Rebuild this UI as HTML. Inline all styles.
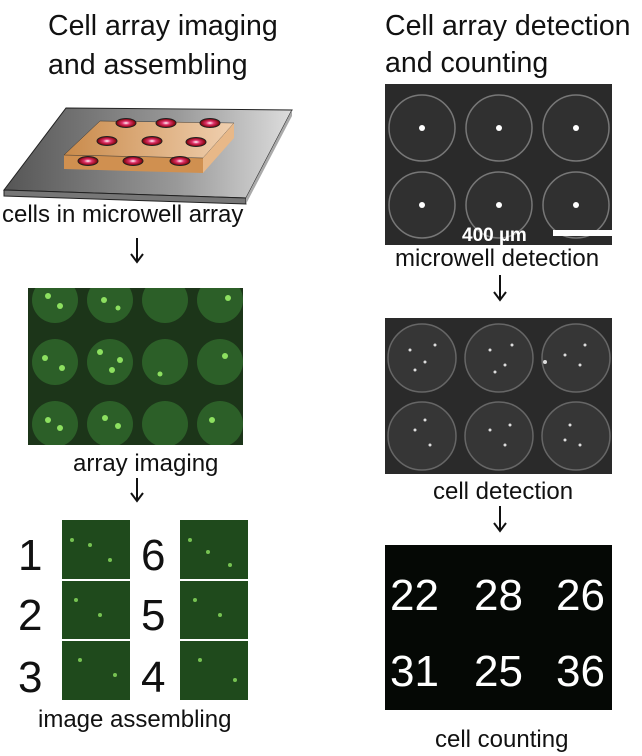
<!DOCTYPE html>
<html><head><meta charset="utf-8"><style>
body{margin:0;background:#fff;}
svg{display:block;font-family:"Liberation Sans",sans-serif;}
</style></head><body>
<svg width="642" height="756" viewBox="0 0 642 756">
<defs>
<linearGradient id="plate" x1="0" x2="1"><stop offset="0" stop-color="#555"/><stop offset="0.6" stop-color="#999"/><stop offset="1" stop-color="#ddd"/></linearGradient>
<linearGradient id="orange" x1="0" x2="1"><stop offset="0" stop-color="#c98a4a"/><stop offset="1" stop-color="#f0d0b0"/></linearGradient>
<radialGradient id="cell"><stop offset="0" stop-color="#fff"/><stop offset="0.4" stop-color="#e0306a"/><stop offset="1" stop-color="#700"/></radialGradient>
<clipPath id="gclip"><rect x="28" y="288" width="215" height="157"/></clipPath>
<clipPath id="mclip"><rect x="385" y="84" width="227" height="161"/></clipPath>
<clipPath id="cclip"><rect x="385" y="318" width="227" height="156"/></clipPath>
</defs>
<g fill="#111" font-size="28.5">
<text x="48" y="35">Cell array imaging</text>
<text x="48" y="74">and assembling</text>
<text x="385" y="35">Cell array detection</text>
<text x="385" y="72">and counting</text>
</g>
<g>
<polygon points="66,108 292,110 246,198 4,190" fill="url(#plate)" stroke="#222" stroke-width="1"/>
<polygon points="4,190 246,198 246,204 4,196" fill="#777" stroke="#222" stroke-width="1"/>
<polygon points="246,198 292,110 292,116 246,204" fill="#aaa"/>
<polygon points="64,169 203,173 203,158 64,155" fill="#d09050"/>
<polygon points="100,121 234,123 203,158 64,155" fill="url(#orange)" stroke="#333" stroke-width="0.5"/>
<polygon points="203,158 234,123 234,138 203,173" fill="#e8b888"/>
<g fill="url(#cell)" stroke="#222" stroke-width="1">
<ellipse cx="126" cy="123" rx="10" ry="4.5"/><ellipse cx="166" cy="123" rx="10" ry="4.5"/><ellipse cx="210" cy="123" rx="10" ry="4.5"/>
<ellipse cx="107" cy="141" rx="10" ry="4.5"/><ellipse cx="152" cy="141" rx="10" ry="4.5"/><ellipse cx="196" cy="142" rx="10" ry="4.5"/>
<ellipse cx="88" cy="161" rx="10" ry="4.5"/><ellipse cx="133" cy="161" rx="10" ry="4.5"/><ellipse cx="180" cy="161" rx="10" ry="4.5"/>
</g></g>
<g fill="#111" font-size="24">
<text x="2" y="222">cells in microwell array</text>
<text x="73" y="471">array imaging</text>
<text x="38" y="727">image assembling</text>
<text x="395" y="266">microwell detection</text>
<text x="433" y="499">cell detection</text>
<text x="435" y="747">cell counting</text>
</g>
<g stroke="#111" stroke-width="2" fill="none">
<path d="M137 238V261M131 254L137 262L143 254"/>
<path d="M137 478V500M131 493L137 501L143 493"/>
<path d="M500 275V299M494 292L500 300L506 292"/>
<path d="M500 506V530M494 523L500 531L506 523"/>
</g>
<g clip-path="url(#gclip)">
<rect x="28" y="288" width="215" height="157" fill="#1c3519"/>
<g fill="#2c5f28">
<circle cx="55" cy="300" r="23"/><circle cx="110" cy="300" r="23"/><circle cx="165" cy="300" r="23"/><circle cx="220" cy="300" r="23"/>
<circle cx="55" cy="362" r="23"/><circle cx="110" cy="362" r="23"/><circle cx="165" cy="362" r="23"/><circle cx="220" cy="362" r="23"/>
<circle cx="55" cy="424" r="23"/><circle cx="110" cy="424" r="23"/><circle cx="165" cy="424" r="23"/><circle cx="220" cy="424" r="23"/>
</g>
<g fill="#8de060">
<circle cx="48" cy="296" r="3"/><circle cx="60" cy="306" r="3"/><circle cx="104" cy="300" r="3"/><circle cx="118" cy="308" r="2.5"/><circle cx="228" cy="298" r="3"/>
<circle cx="45" cy="358" r="3"/><circle cx="62" cy="368" r="3"/><circle cx="100" cy="352" r="3"/><circle cx="112" cy="370" r="3"/><circle cx="120" cy="360" r="3"/><circle cx="160" cy="374" r="2.5"/><circle cx="225" cy="356" r="3"/>
<circle cx="48" cy="420" r="3"/><circle cx="60" cy="428" r="3"/><circle cx="105" cy="418" r="3"/><circle cx="118" cy="426" r="3"/><circle cx="212" cy="420" r="3"/>
</g></g>
<g>
<g fill="#1f4a1c">
<rect x="62" y="520" width="68" height="59"/><rect x="62" y="581" width="68" height="58"/><rect x="62" y="641" width="68" height="59"/>
<rect x="180" y="520" width="68" height="59"/><rect x="180" y="581" width="68" height="58"/><rect x="180" y="641" width="68" height="59"/>
</g>
<g fill="#8de060" opacity="0.8">
<circle cx="72" cy="540" r="2"/><circle cx="90" cy="545" r="2"/><circle cx="110" cy="560" r="2"/><circle cx="76" cy="600" r="2"/><circle cx="100" cy="615" r="2"/><circle cx="80" cy="660" r="2"/><circle cx="115" cy="675" r="2"/>
<circle cx="190" cy="540" r="2"/><circle cx="208" cy="552" r="2"/><circle cx="230" cy="565" r="2"/><circle cx="195" cy="600" r="2"/><circle cx="220" cy="615" r="2"/><circle cx="200" cy="660" r="2"/><circle cx="235" cy="680" r="2"/>
</g></g>
<g fill="#111" font-size="44">
<text x="18" y="570">1</text>
<text x="18" y="630">2</text>
<text x="18" y="692">3</text>
<text x="141" y="570">6</text>
<text x="141" y="630">5</text>
<text x="141" y="692">4</text>
</g>
<g clip-path="url(#mclip)">
<rect x="385" y="84" width="227" height="161" fill="#2a2a2a"/>
<g fill="#303030" stroke="#777" stroke-width="1.5">
<circle cx="422" cy="128" r="33"/><circle cx="499" cy="128" r="33"/><circle cx="576" cy="128" r="33"/>
<circle cx="422" cy="205" r="33"/><circle cx="499" cy="205" r="33"/><circle cx="576" cy="205" r="33"/>
</g>
<g fill="#fff"><circle cx="422" cy="128" r="3"/><circle cx="499" cy="128" r="3"/><circle cx="576" cy="128" r="3"/><circle cx="422" cy="205" r="3"/><circle cx="499" cy="205" r="3"/><circle cx="576" cy="205" r="3"/></g>
<text x="462" y="241" fill="#fff" font-size="19" font-weight="bold">400 µm</text>
<rect x="553" y="230" width="59" height="6" fill="#fff"/>
</g>
<g clip-path="url(#cclip)">
<rect x="385" y="318" width="227" height="156" fill="#2a2a2a"/>
<g fill="#363636" stroke="#666" stroke-width="1.5">
<circle cx="422" cy="358" r="34"/><circle cx="499" cy="358" r="34"/><circle cx="576" cy="358" r="34"/>
<circle cx="422" cy="436" r="34"/><circle cx="499" cy="436" r="34"/><circle cx="576" cy="436" r="34"/>
</g>
<g fill="#ddd">
<circle cx="410" cy="350" r="1.5"/><circle cx="425" cy="362" r="1.5"/><circle cx="435" cy="345" r="1.5"/><circle cx="415" cy="370" r="1.5"/><circle cx="490" cy="350" r="1.5"/><circle cx="505" cy="365" r="1.5"/><circle cx="512" cy="345" r="1.5"/><circle cx="495" cy="372" r="1.5"/><circle cx="565" cy="355" r="1.5"/><circle cx="580" cy="365" r="1.5"/><circle cx="545" cy="362" r="2"/><circle cx="585" cy="345" r="1.5"/>
<circle cx="415" cy="430" r="1.5"/><circle cx="430" cy="445" r="1.5"/><circle cx="425" cy="420" r="1.5"/><circle cx="490" cy="430" r="1.5"/><circle cx="505" cy="445" r="1.5"/><circle cx="510" cy="425" r="1.5"/><circle cx="570" cy="425" r="1.5"/><circle cx="580" cy="445" r="1.5"/><circle cx="565" cy="440" r="1.5"/>
</g></g>
<g>
<rect x="385" y="545" width="227" height="165" fill="#050805"/>
<g fill="#fff" font-size="44">
<text x="390" y="610">22</text>
<text x="474" y="610">28</text>
<text x="556" y="610">26</text>
<text x="390" y="686">31</text>
<text x="474" y="686">25</text>
<text x="556" y="686">36</text>
</g></g>
</svg>
</body></html>
